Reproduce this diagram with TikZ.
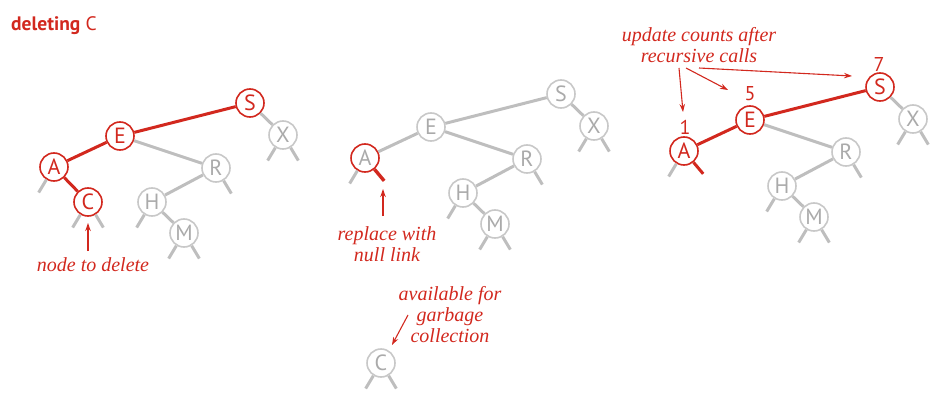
\documentclass[tikz,border=0pt]{standalone}
\usepackage{fontspec}
\setmainfont{Liberation Serif}
\setsansfont{PT Sans}
\usetikzlibrary{arrows.meta}

\definecolor{bstred}{RGB}{210,40,30}
\definecolor{linkgray}{RGB}{190,190,190}
\definecolor{nodegray}{RGB}{200,200,200}
\definecolor{keygray}{RGB}{170,170,170}

\tikzset{
	key/.style={circle, draw=nodegray, line width=1.6pt, fill=white,
		minimum size=28pt, inner sep=0pt, text=keygray,
		font=\sffamily\fontsize{22}{22}\selectfont},
	hot/.style={key, draw=bstred, text=bstred},
	link/.style={linkgray, line width=3pt},
	hotlink/.style={bstred, line width=3pt},
	note/.style={text=bstred, font=\itshape\fontsize{20}{21}\selectfont,
		align=center, inner sep=0pt},
	pointer/.style={bstred, line width=1.1pt, -{Stealth[length=8pt,width=5.5pt]}},
	cnt/.style={text=bstred, font=\sffamily\fontsize{20}{20}\selectfont, inner sep=0pt},
}

\begin{document}
\begin{tikzpicture}[x=1pt, y=1pt]
	\useasboundingbox (0,0) rectangle (947,-417);

	\node [anchor=base west, inner sep=0pt, text=bstred,
		font=\sffamily\fontsize{19.5}{19.5}\selectfont] (title) at (11,-31)
		{{\bfseries deleting} C};

	% tree before the deletion
	\node [hot] (S1) at (250,-103) {S};
	\node [hot] (E1) at (120,-136) {E};
	\node [hot] (A1) at (54,-167) {A};
	\node [hot] (C1) at (88,-202) {C};
	\node [key] (R1) at (216,-168) {R};
	\node [key] (H1) at (152,-202) {H};
	\node [key] (M1) at (184,-233) {M};
	\node [key] (X1) at (283,-135) {X};
	\draw [hotlink] (S1) -- (E1);
	\draw [hotlink] (E1) -- (A1);
	\draw [hotlink] (A1) -- (C1);
	\draw [link] (S1) -- (X1);
	\draw [link] (E1) -- (R1);
	\draw [link] (R1) -- (H1);
	\draw [link] (H1) -- (M1);
	\foreach \n/\a in {A1/-121, C1/-121, C1/-59, H1/-121, M1/-121, M1/-59,
			R1/-59, X1/-121, X1/-59}
		\draw [link] (\n.\a) -- ++(\a:15pt);

	\node [note, anchor=base] (del) at (93,-271) {node to delete};
	\coordinate (delfrom) at (88,-251);
	\coordinate (delto) at (88,-223);
	\draw [pointer] (delfrom) -- (delto);

	% C replaced with a null link
	\begin{scope}[shift={(311,9)}]
		\node [key] (S2) at (250,-103) {S};
		\node [key] (E2) at (120,-136) {E};
		\node [key, draw=bstred] (A2) at (54,-167) {A};
		\node [key] (R2) at (216,-168) {R};
		\node [key] (H2) at (152,-202) {H};
		\node [key] (M2) at (184,-233) {M};
		\node [key] (X2) at (283,-135) {X};
		\draw [link] (S2) -- (E2);
		\draw [link] (E2) -- (A2);
		\draw [link] (S2) -- (X2);
		\draw [link] (E2) -- (R2);
		\draw [link] (R2) -- (H2);
		\draw [link] (H2) -- (M2);
		\foreach \n/\a in {A2/-121, H2/-121, M2/-121, M2/-59,
				R2/-59, X2/-121, X2/-59}
			\draw [link] (\n.\a) -- ++(\a:15pt);
		\draw [hotlink, line width=3.4pt] (A2.-50) -- ++(-50:15pt);
	\end{scope}

	\node [note, anchor=north] (null) at (387,-226) {replace with\\null link};
	\coordinate (nullfrom) at (383,-216);
	\coordinate (nullto) at (383,-189);
	\draw [pointer] (nullfrom) -- (nullto);

	\node [key] (Cg) at (381,-363) {C};
	\draw [link] (Cg.-121) -- ++(-121:15pt);
	\draw [link] (Cg.-59) -- ++(-59:15pt);
	\node [note, anchor=north] (garb) at (450,-286) {available for\\garbage\\collection};
	\coordinate (garbfrom) at (408,-315);
	\coordinate (garbto) at (392,-345);
	\draw [pointer] (garbfrom) -- (garbto);

	% counts fixed on the way back up
	\begin{scope}[shift={(630,16)}]
		\node [hot] (S3) at (250,-103) {S};
		\node [hot] (E3) at (120,-136) {E};
		\node [hot] (A3) at (54,-167) {A};
		\node [key] (R3) at (216,-168) {R};
		\node [key] (H3) at (152,-202) {H};
		\node [key] (M3) at (184,-233) {M};
		\node [key] (X3) at (283,-135) {X};
		\draw [hotlink] (S3) -- (E3);
		\draw [hotlink] (E3) -- (A3);
		\draw [link] (S3) -- (X3);
		\draw [link] (E3) -- (R3);
		\draw [link] (R3) -- (H3);
		\draw [link] (H3) -- (M3);
		\foreach \n/\a in {A3/-121, H3/-121, M3/-121, M3/-59,
				R3/-59, X3/-121, X3/-59}
			\draw [link] (\n.\a) -- ++(\a:15pt);
		\draw [hotlink] (A3.-50) -- ++(-50:15pt);
		\node [cnt] (nA) at (55,-143) {1};
		\node [cnt] (nE) at (120,-110) {5};
		\node [cnt] (nS) at (249,-81) {7};
	\end{scope}

	\node [note, anchor=north] (upd) at (699,-27) {update counts after\\recursive calls};
	\coordinate (upd1) at (679,-68);
	\coordinate (upd2) at (686,-68);
	\coordinate (upd3) at (699,-68);
	\coordinate (toA) at (683,-112);
	\coordinate (toE) at (728,-90);
	\coordinate (toS) at (852,-76);
	\draw [pointer] (upd1) -- (toA);
	\draw [pointer] (upd2) -- (toE);
	\draw [pointer] (upd3) -- (toS);
\end{tikzpicture}
\end{document}
